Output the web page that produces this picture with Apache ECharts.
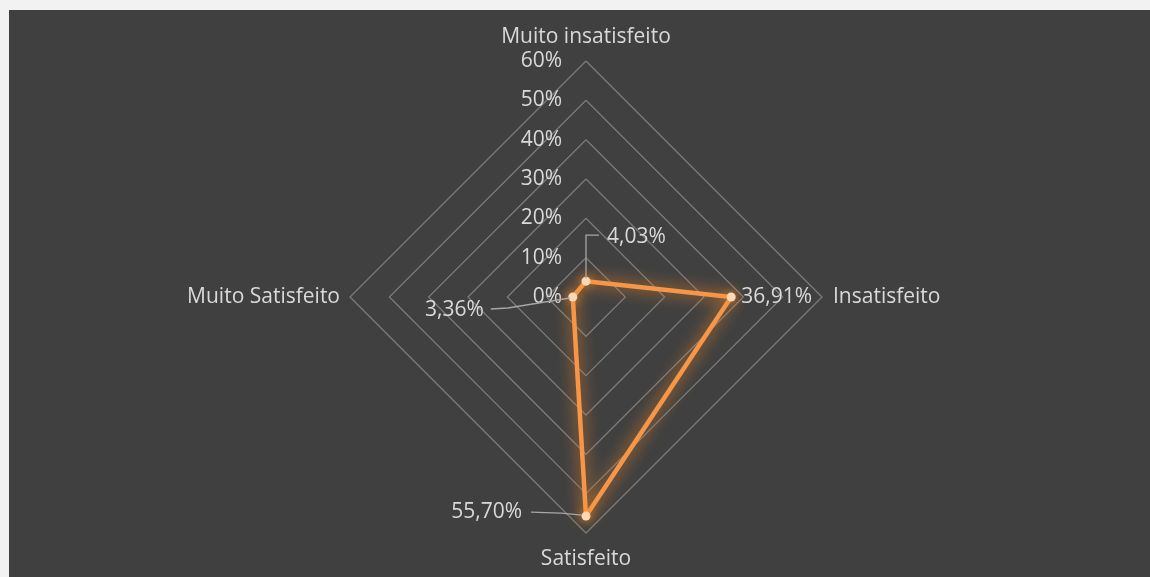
<!DOCTYPE html>
<html><head><meta charset="utf-8">
<script src="https://cdn.jsdelivr.net/npm/echarts@6/dist/echarts.min.js"></script>
<style>
html,body{margin:0;padding:0;background:#f2f2f2;width:1150px;height:577px;overflow:hidden}
#main{position:absolute;left:9px;top:10px;width:1141px;height:567px}
</style></head><body><div id="main"></div>
<script>
// ---- data ----
const categories = ['Muito insatisfeito', 'Insatisfeito', 'Satisfeito', 'Muito Satisfeito'];
const values = [4.03, 36.91, 55.70, 3.36];
const axisMin = 0;
const axisMax = 60;
const axisSplits = 6;

// ---- layout / style ----
const FONT = 'Open Sans';
const FS = 21;
const TXT = '#d9d9d9';
const CX = 577, CY = 287, R = 236;
// ECharts places indicators counter-clockwise; reference is clockwise from top
const order = [0, 3, 2, 1];
// name gap per category (top, right, bottom, left)
const nameGaps = [13, 11, 16, 10];
// label / leader offsets (px, relative to the vertex) per category
const labelStyle = [
  {dx: 21, dy: -44, align: 'left', leader: [[0, -3], [0, -46], [13, -46]]},
  {dx: 10, dy: 0, align: 'left', leader: null},
  {dx: -64, dy: -4, align: 'right', leader: [[-4, -1], [-25, -3], [-55, -4]]},
  {dx: -89, dy: 13, align: 'right', leader: [[-3, 1], [-65, 11], [-82, 12]]}
];
const fmt = v => v.toFixed(2).replace('.', ',') + '%';

function vertex(c) {
  const k = order.indexOf(c);
  const a = Math.PI / 2 + k * Math.PI * 2 / categories.length;
  const d = R * (values[c] - axisMin) / (axisMax - axisMin);
  return [CX + d * Math.cos(a), CY - d * Math.sin(a)];
}

const graphics = [];
categories.forEach((name, c) => {
  const p = vertex(c);
  const s = labelStyle[c];
  if (s.leader) {
    graphics.push({
      type: 'polyline', z: 5, silent: true,
      shape: {points: s.leader.map(o => [p[0] + o[0], p[1] + o[1]])},
      style: {stroke: '#a6a6a6', lineWidth: 1.3, fill: null}
    });
  }
  graphics.push({
    type: 'text', z: 6, silent: true,
    x: p[0] + s.dx, y: p[1] + s.dy,
    style: {text: fmt(values[c]), fill: TXT, font: FS + 'px "' + FONT + '"', align: s.align, verticalAlign: 'middle'}
  });
});

const chart = echarts.init(document.getElementById('main'), null, {renderer: 'canvas'});
chart.setOption({
  backgroundColor: '#404040',
  animation: false,
  radar: {
    center: [CX, CY],
    radius: R,
    startAngle: 90,
    shape: 'polygon',
    splitNumber: axisSplits,
    nameGap: 11,
    axisName: {color: TXT, fontSize: FS, fontFamily: FONT},
    indicator: order.map((c, k) => ({
      name: categories[c], min: axisMin, max: axisMax,
      nameGap: nameGaps[c],
      axisLabel: {show: k === 0}
    })),
    splitLine: {lineStyle: {color: '#7a7a7a', width: 1.3}},
    splitArea: {show: false},
    axisLine: {show: false},
    axisTick: {show: false},
    axisLabel: {show: false, color: TXT, fontSize: FS, fontFamily: FONT, formatter: '{value}%', margin: 24}
  },
  series: [{
    type: 'radar',
    z: 3,
    symbol: 'circle',
    symbolSize: 9,
    lineStyle: {color: '#f79646', width: 4.5, shadowColor: 'rgba(247,140,40,1)', shadowBlur: 16},
    itemStyle: {color: '#fcd7b8', shadowColor: 'rgba(247,140,40,1)', shadowBlur: 10},
    data: [{value: order.map(c => values[c])}]
  }],
  graphic: graphics
});
</script></body></html>
